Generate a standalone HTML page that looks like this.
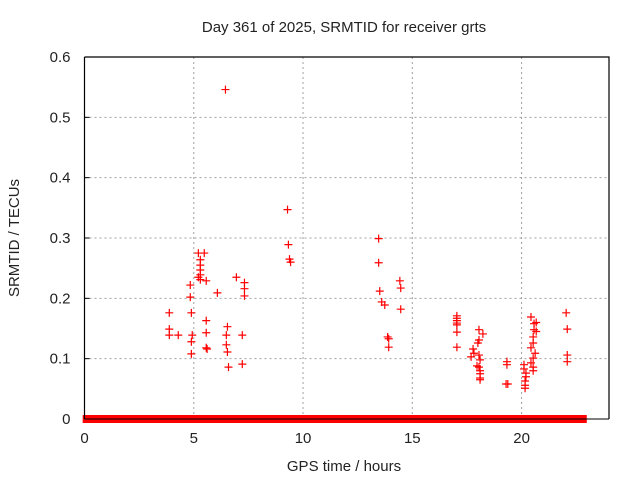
<!DOCTYPE html>
<html><head><meta charset="utf-8"><style>
body{margin:0;background:#fff;}
svg text{font-family:"Liberation Sans",sans-serif;font-size:15px;fill:#222;}
</style></head><body>
<svg id="chart" width="640" height="480">
<text x="344" y="32" text-anchor="middle">Day 361 of 2025, SRMTID for receiver grts</text>
<text x="344" y="471" text-anchor="middle">GPS time / hours</text>
<text x="0" y="0" text-anchor="middle" transform="translate(19,238) rotate(-90)">SRMTID / TECUs</text>
<g id="grid"></g><g id="zeros"></g><g id="pts"></g><g id="axes"></g>
</svg>
<script>
const xTicks=[0,5,10,15,20];
const yTicks=[0,0.1,0.2,0.3,0.4,0.5,0.6];
const yTickLabels=["0","0.1","0.2","0.3","0.4","0.5","0.6"];
const zeroSegments=[[0.1,0.18],[0.3,0.52],[0.6,5.2],[5.3,6.45],[6.7,22.8]];
const hours=[3.88,3.88,3.88,4.29,4.84,4.84,4.89,4.93,4.89,4.89,5.21,5.48,5.30,5.30,5.30,5.30,5.30,5.21,5.57,6.08,6.45,6.54,6.49,6.49,6.54,6.59,5.57,5.57,5.57,5.61,6.95,7.32,7.32,7.32,7.22,7.22,9.29,9.33,9.38,9.43,13.46,13.46,13.51,13.60,13.74,13.87,13.92,13.92,14.43,14.47,14.47,17.04,17.04,17.04,17.04,17.04,17.04,17.04,18.05,18.23,18.05,18.00,17.78,17.82,18.05,17.69,18.10,17.96,18.05,18.10,18.10,18.10,18.10,19.33,19.33,19.29,19.37,20.11,20.11,20.20,20.20,20.16,20.16,20.16,20.43,20.57,20.57,20.53,20.53,20.43,20.62,20.53,20.43,20.53,20.53,20.67,20.67,22.04,22.09,22.09,22.09];
const values=[0.176,0.149,0.139,0.139,0.202,0.222,0.176,0.139,0.128,0.108,0.275,0.275,0.264,0.255,0.247,0.239,0.231,0.235,0.229,0.209,0.546,0.153,0.139,0.123,0.111,0.086,0.163,0.143,0.118,0.116,0.235,0.226,0.216,0.204,0.139,0.091,0.347,0.289,0.265,0.260,0.299,0.259,0.212,0.194,0.189,0.136,0.133,0.119,0.229,0.217,0.182,0.171,0.167,0.163,0.159,0.156,0.144,0.119,0.148,0.141,0.131,0.126,0.116,0.109,0.106,0.103,0.098,0.088,0.086,0.080,0.075,0.068,0.065,0.095,0.090,0.058,0.058,0.090,0.083,0.076,0.070,0.063,0.056,0.051,0.169,0.158,0.148,0.136,0.126,0.118,0.109,0.101,0.093,0.086,0.080,0.160,0.145,0.176,0.149,0.106,0.095];
const X0=84.5,X1=609,Y0=419,Y1=57,XMAX=24,YMAX=0.6;
function xs(h){return X0+h/XMAX*(X1-X0);}
function ys(v){return Y0-v/YMAX*(Y0-Y1);}
const NS="http://www.w3.org/2000/svg";
function mk(t,a,p){const e=document.createElementNS(NS,t);for(const k in a)e.setAttribute(k,a[k]);p.appendChild(e);return e;}
const grid=document.getElementById('grid'),axes=document.getElementById('axes'),pts=document.getElementById('pts'),zeros=document.getElementById('zeros');
yTicks.forEach((v,i)=>{const y=ys(v);
 if(v>0&&v<YMAX){const g=mk('line',{x1:X0,x2:X1,y1:y,y2:y,stroke:'#a0a0a0','stroke-dasharray':'2,3'},grid);
 
 }
 const t=mk('line',{x1:X0,x2:X0+5,y1:y,y2:y,stroke:'#000'},axes);
 
 
 const l=mk('text',{x:X0-14,y:y+5,'text-anchor':'end'},axes);l.textContent=yTickLabels[i];
 
 
});
xTicks.forEach(h=>{const x=xs(h);
 if(h>0){const g=mk('line',{x1:x,x2:x,y1:Y0,y2:Y1,stroke:'#a0a0a0','stroke-dasharray':'2,3'},grid);
 
 }
 const l=mk('text',{x:x,y:Y0+24,'text-anchor':'middle'},axes);l.textContent=String(h);
 
 
});
zeroSegments.forEach(s=>{
 const r=mk('rect',{x:xs(s[0])-4,y:ys(0)-4,width:xs(s[1])-xs(s[0])+8,height:8,fill:'#ff0000'},zeros);
 
 
});
hours.forEach((h,i)=>{const x=xs(h),y=ys(values[i]);
 const p=mk('path',{d:`M${x-4} ${y}H${x+4}M${x} ${y-4}V${y+4}`,stroke:'#ff0000','stroke-width':1.2,fill:'none'},pts);
 
 
});
const f=mk('path',{d:`M${X0} ${Y1}H${X1}V${Y0}M${X0} ${Y1}V${Y0}`,stroke:'#000','stroke-width':1.2,fill:'none'},axes);


const zl=mk('line',{x1:X0,x2:X1,y1:Y0,y2:Y0,stroke:'#000','stroke-width':1},axes);


</script>
</body></html>
